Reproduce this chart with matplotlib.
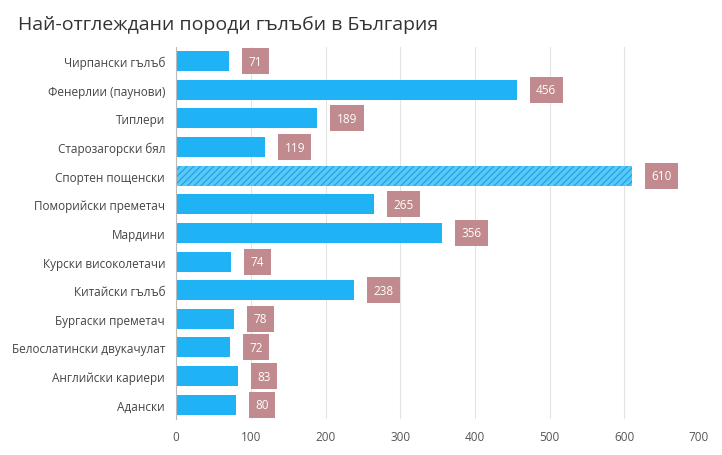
import matplotlib
matplotlib.use("Agg")
import matplotlib.pyplot as plt

plt.rcParams["font.family"] = ["Open Sans", "DejaVu Sans"]

breeds = [
    "Чирпански гълъб", "Фенерлии (паунови)", "Типлери", "Старозагорски бял",
    "Спортен пощенски", "Поморийски преметач", "Мардини", "Курски високолетачи",
    "Китайски гълъб", "Бургаски преметач", "Белослатински двукачулат",
    "Английски кариери", "Адански",
]
counts = [71, 456, 189, 119, 610, 265, 356, 74, 238, 78, 72, 83, 80]
highlight = "Спортен пощенски"

bar_color = "#1FB3F5"
label_color = "#C08A8E"

fig = plt.figure(figsize=(7.22, 4.56), dpi=100)
ax = fig.add_axes([0.244, 0.079, 0.724, 0.816])

y = list(range(len(breeds)))
for yi, name, v in zip(y, breeds, counts):
    if name == highlight:
        ax.barh(yi, v, height=0.7, color="#5CC8F7", edgecolor="#1FA8E8",
                hatch="/////", linewidth=0, zorder=2)
    else:
        ax.barh(yi, v, height=0.7, color=bar_color, zorder=2)
    ax.annotate(str(v), (v, yi), xytext=(14, 0), textcoords="offset points",
                ha="left", va="center", color="white", fontsize=8.5,
                bbox=dict(boxstyle="square,pad=0.55", fc=label_color, ec="none"),
                zorder=3)

ax.set_ylim(len(breeds) - 0.5, -0.5)
ax.set_xlim(0, 700)
ax.set_yticks(y)
ax.set_yticklabels(breeds, fontsize=8.5, color="#444444")
ax.set_xticks(range(0, 701, 100))
ax.tick_params(axis="x", labelsize=8.5, colors="#555555", length=0, pad=8)
ax.tick_params(axis="y", length=0, pad=8)
ax.grid(axis="x", color="#E3E3E3", linewidth=0.8, zorder=0)
for s in ["top", "right", "bottom"]:
    ax.spines[s].set_visible(False)
ax.spines["left"].set_color("#BBBBBB")

fig.text(0.025, 0.945, "Най-отглеждани породи гълъби в България",
         fontsize=14, color="#333333", ha="left", va="center")

fig.savefig("out.png", dpi=100)
